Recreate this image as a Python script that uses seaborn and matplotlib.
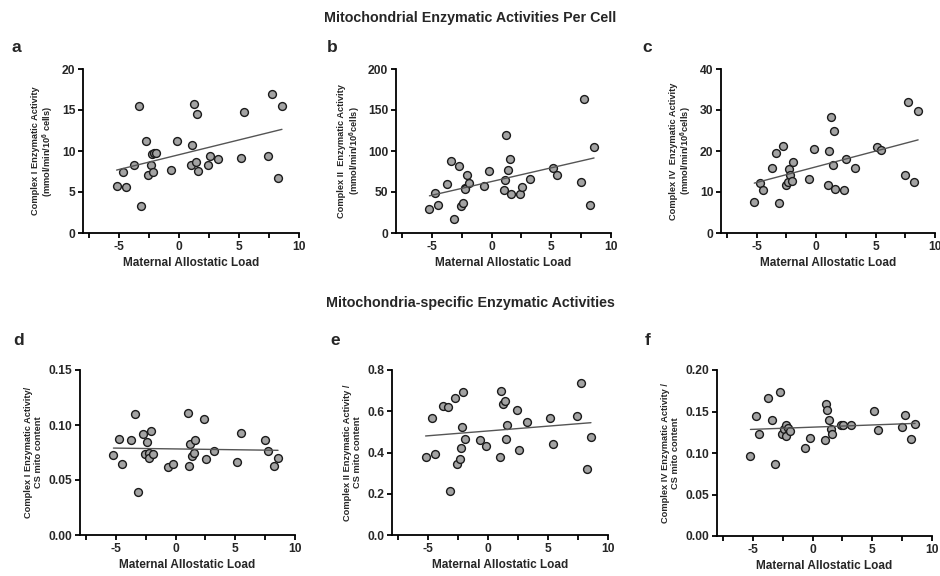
import numpy as np
import matplotlib.pyplot as plt
import seaborn as sns

# maternal allostatic load (shared x for every panel)
load = [-5.2, -4.7, -4.45, -3.75, -3.37, -3.15, -2.76, -2.57, -2.35, -2.25,
        -2.2, -2.05, -1.92, -0.63, -0.2, 1.04, 1.12, 1.25, 1.4, 1.52,
        1.6, 2.38, 2.55, 3.23, 5.15, 5.45, 7.45, 7.73, 8.22, 8.58]

# per-cell activities (mmol/min/10^6 cells)
c1_cell = [5.74, 7.45, 5.58, 8.27, 15.5, 3.3, 11.28, 7.13, 8.27, 9.6,
           7.45, 9.7, 9.78, 7.7, 11.28, 8.27, 10.75, 15.7, 8.6, 14.5,
           7.58, 8.27, 9.45, 9.08, 9.2, 14.8, 9.37, 16.9, 6.68, 15.44]
c2_cell = [29.7, 48.5, 33.8, 59.9, 87.6, 17.5, 81.5, 33.0, 36.7, 55.4,
           54.0, 71.3, 61.5, 57.4, 75.8, 52.5, 65.2, 120.0, 77.0, 90.0,
           47.2, 47.7, 56.2, 65.6, 79.4, 70.5, 62.7, 163.0, 34.6, 105.0]
c4_cell = [7.5, 12.2, 10.5, 15.9, 19.5, 7.2, 21.1, 11.8, 12.5, 15.7,
           14.1, 12.7, 17.3, 13.1, 20.4, 11.8, 19.9, 28.4, 16.5, 24.9,
           10.8, 10.4, 18.1, 15.9, 20.9, 20.3, 14.1, 31.9, 12.4, 29.7]

# mitochondria-specific activities (per CS mito content)
c1_mito = [0.0729, 0.0877, 0.0644, 0.0865, 0.1098, 0.0393, 0.0919, 0.0738, 0.0841, 0.0744,
           0.0699, 0.0950, 0.0735, 0.0617, 0.0647, 0.1107, 0.0629, 0.0829, 0.0720, 0.0750,
           0.0865, 0.1052, 0.0695, 0.0762, 0.0662, 0.0928, 0.0865, 0.0765, 0.0623, 0.0702]
c2_mito = [0.377, 0.567, 0.391, 0.624, 0.619, 0.212, 0.666, 0.343, 0.370, 0.420,
           0.524, 0.695, 0.464, 0.462, 0.433, 0.380, 0.697, 0.637, 0.648, 0.464,
           0.532, 0.605, 0.412, 0.550, 0.567, 0.443, 0.575, 0.739, 0.322, 0.475]
c4_mito = [0.0958, 0.1449, 0.1223, 0.1662, 0.1396, 0.0865, 0.1734, 0.1230, 0.1290, 0.1340,
           0.1210, 0.1300, 0.1270, 0.1058, 0.1179, 0.1159, 0.1594, 0.1513, 0.1392, 0.1292,
           0.1231, 0.1340, 0.1340, 0.1340, 0.1505, 0.1280, 0.1308, 0.1457, 0.1167, 0.1348]

panels = [
    ("a", c1_cell, "Complex I Enzymatic Activity\n(mmol/min/10$^6$ cells)", [0, 5, 10, 15, 20], "{:.0f}"),
    ("b", c2_cell, "Complex II  Enzymatic Activity\n(mmol/min/10$^6$cells)", [0, 50, 100, 150, 200], "{:.0f}"),
    ("c", c4_cell, "Complex IV  Enzymatic Activity\n(mmol/min/10$^6$cells)", [0, 10, 20, 30, 40], "{:.0f}"),
    ("d", c1_mito, "Complex I Enzymatic Activity/\nCS mito content", [0, 0.05, 0.10, 0.15], "{:.2f}"),
    ("e", c2_mito, "Complex II Enzymatic Activity /\nCS mito content", [0, 0.2, 0.4, 0.6, 0.8], "{:.1f}"),
    ("f", c4_mito, "Complex IV Enzymatic Activity /\nCS mito content", [0, 0.05, 0.10, 0.15, 0.20], "{:.2f}"),
]

# axes boxes in pixels: left, top, right, bottom
boxes = [(83, 69, 299, 233), (396, 69, 611, 233), (721, 69, 935, 233),
         (80, 370, 295, 535), (392, 370, 608, 535), (717, 370, 932, 536)]
letter_pos = [(12, 52), (327, 52), (642, 52), (13, 345), (330, 345), (645, 345)]

W, H = 940, 576

sns.set_theme(style="ticks")
plt.rcParams.update({
    'font.family': ['Liberation Sans', 'DejaVu Sans'],
    'font.weight': 'bold',
    'axes.labelweight': 'bold',
    'axes.unicode_minus': False,
    'mathtext.fontset': 'custom',
    'mathtext.rm': 'Liberation Sans:bold',
    'mathtext.bf': 'Liberation Sans:bold',
    'mathtext.default': 'bf',
})

fig = plt.figure(figsize=(W / 100, H / 100), dpi=100)

for (letter, vals, ylab, yticks, fmt), (l, t, r, b), (lx, ly) in zip(panels, boxes, letter_pos):
    ax = fig.add_axes([l / W, 1 - b / H, (r - l) / W, (b - t) / H])
    sns.regplot(x=load, y=vals, ax=ax, ci=None, truncate=True,
                scatter_kws=dict(s=32, color="#a3a3a3", edgecolor="#1a1a1a", linewidths=1.0, alpha=1),
                line_kws=dict(color="#555555", lw=1.0))
    ax.set_xlim(-8, 10)
    ax.set_ylim(yticks[0], yticks[-1])
    ax.set_xticks([-5, 0, 5, 10])
    ax.set_xticks([-7.5, -2.5, 2.5, 7.5], minor=True)
    ax.set_yticks(yticks)
    ax.set_yticklabels([fmt.format(v) for v in yticks])
    ax.tick_params(axis='both', which='major', labelsize=8.7, width=1.3, length=3.5, pad=2, color='black')
    ax.tick_params(axis='x', which='minor', width=1.3, length=3.5, color='black')
    for lab in ax.get_xticklabels() + ax.get_yticklabels():
        lab.set_fontweight('bold')
    sns.despine(ax=ax)
    for sp in ('left', 'bottom'):
        ax.spines[sp].set_linewidth(1.3)
        ax.spines[sp].set_color('black')
    ax.set_xlabel("Maternal Allostatic Load", fontsize=8.5, fontweight='bold', labelpad=3)
    ax.set_ylabel(ylab, fontsize=6.7, fontweight='bold', labelpad=4, linespacing=1.1)
    fig.text(lx / W, 1 - ly / H, letter, fontsize=12.5, fontweight='bold', ha='left', va='baseline')

fig.text(0.5, 1 - 18 / H, "Mitochondrial Enzymatic Activities Per Cell",
         fontsize=10.3, fontweight='bold', ha='center', va='center')
fig.text(0.5, 1 - 303 / H, "Mitochondria-specific Enzymatic Activities",
         fontsize=10.3, fontweight='bold', ha='center', va='center')

fig.savefig("out.png", dpi=100)
